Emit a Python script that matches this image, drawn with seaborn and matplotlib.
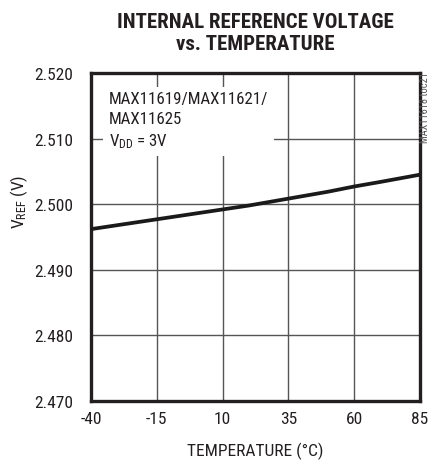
import matplotlib
matplotlib.use("Agg")
import matplotlib.pyplot as plt
import seaborn as sns
import pandas as pd

temperature = [-40, -30, -20, -10, 0, 10, 20, 30, 40, 50, 60, 70, 85]
vref = [2.4962, 2.4968, 2.4974, 2.4980, 2.4986, 2.4992, 2.4998, 2.5005,
        2.5012, 2.5019, 2.5027, 2.5034, 2.5045]
x_ticks = [-40, -15, 10, 35, 60, 85]
y_ticks = [2.470, 2.480, 2.490, 2.500, 2.510, 2.520]
y_tick_labels = ["2.470", "2.480", "2.490", "2.500", "2.510", "2.520"]

sns.set_theme(style="white")
FONT = ["Roboto Condensed", "Liberation Sans", "DejaVu Sans"]
plt.rcParams["font.family"] = FONT
plt.rcParams["mathtext.fontset"] = "custom"
plt.rcParams["mathtext.rm"] = "Roboto Condensed"
plt.rcParams["mathtext.it"] = "Roboto Condensed"
plt.rcParams["mathtext.bf"] = "Roboto Condensed:bold"

TXT = "#231f20"
df = pd.DataFrame({"temp": temperature, "vref": vref})

fig = plt.figure(figsize=(4.35, 4.64), dpi=100)
ax = fig.add_axes([0.209, 0.1336, 0.7565, 0.7069])

for xv in x_ticks[1:-1]:
    ax.axvline(xv, color="#555555", lw=1.0, zorder=1)
for yv in y_ticks[1:-1]:
    ax.axhline(yv, color="#555555", lw=1.0, zorder=1)

sns.lineplot(data=df, x="temp", y="vref", ax=ax, color="#1a1a1a", lw=2.7, zorder=3)

ax.set_xlim(-40, 85)
ax.set_ylim(2.470, 2.520)
ax.set_xticks(x_ticks)
ax.set_xticklabels([str(v) for v in x_ticks])
ax.set_yticks(y_ticks)
ax.set_yticklabels(y_tick_labels)
ax.tick_params(axis="both", length=0, labelsize=12.5, colors=TXT)
ax.tick_params(axis="x", pad=7)
ax.tick_params(axis="y", pad=13)

for s in ax.spines.values():
    s.set_visible(True)
    s.set_color(TXT)
    s.set_linewidth(2.4)

ax.set_xlabel("TEMPERATURE (°C)", fontsize=12.5, color=TXT)
ax.xaxis.set_label_coords(0.5, -0.125)
ax.set_ylabel(r"V$_{\mathrm{REF}}$ (V)", fontsize=12.5, color=TXT)
ax.yaxis.set_label_coords(-0.185, 0.61)

fig.text(0.587, 0.972, "INTERNAL REFERENCE VOLTAGE\nvs. TEMPERATURE",
         ha="center", va="top", fontsize=15, fontweight="heavy",
         color=TXT, linespacing=1.2)

ax.text(0.055, 0.945, "MAX11619/MAX11621/\nMAX11625\n" + r"V$_{\mathrm{DD}}$ = 3V",
        transform=ax.transAxes, ha="left", va="top", fontsize=12.2,
        color=TXT, linespacing=1.4, zorder=4,
        bbox=dict(facecolor="white", edgecolor="none", pad=4))

fig.text(0.977, 0.845, "MAX11618 toc21", rotation=90, ha="center", va="top",
         fontsize=7.5, color="#555555")

fig.savefig("out.png", dpi=100)
